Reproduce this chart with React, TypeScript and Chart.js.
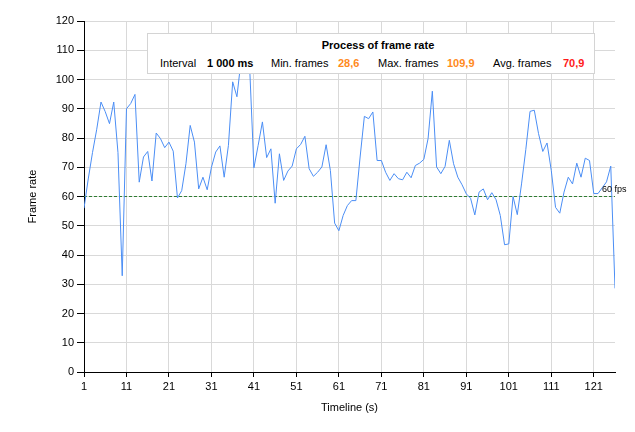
import React, { useEffect, useRef } from "react";
import { Chart, registerables } from "chart.js";

Chart.register(...registerables);

// ---- data ----
const fps: number[] = [
  56, 66, 75, 83, 92.3, 89, 84.9, 92.3, 75, 32.9,
  90, 91.8, 94.9, 64.9, 73.5, 75.4, 65.3, 81.7, 79.8, 76.7,
  78.6, 75.5, 59.5, 62, 71.2, 84.3, 78.6, 62.6, 66.6, 62.3,
  70, 75.2, 77.3, 66.6, 77.5, 99.2, 94.1, 107, 109.9, 104,
  69.8, 77.5, 85.5, 73.3, 76.3, 57.7, 74.6, 65.5, 68.7, 70.4,
  76.3, 77.8, 80.6, 69.5, 66.9, 68.3, 70.1, 77.7, 68.9, 50.9,
  48.3, 53.5, 56.9, 58.6, 58.6, 73.5, 87.4, 86.6, 88.9, 72.3,
  72.3, 68.3, 65.5, 67.8, 66.1, 65.7, 68.3, 66.4, 70.6, 71.4,
  72.7, 79.8, 96, 70.1, 67.8, 70.3, 79.2, 71.2, 66.6, 64,
  60.9, 59.4, 53.7, 61.5, 62.6, 58.9, 61.3, 58.9, 53.5, 43.5,
  43.8, 60, 53.8, 64.3, 76, 89.1, 89.5, 81.5, 75.4, 78.3,
  68.9, 56.3, 54.3, 61.5, 66.6, 64.3, 71.4, 66.6, 73.1, 72.3,
  61, 61, 63, 65, 70.4, 28.6,
];
const firstSecond = 1;
const lastSecond = 126;
const xTickValues: number[] = [1, 11, 21, 31, 41, 51, 61, 71, 81, 91, 101, 111, 121];
const yMin = 0;
const yMax = 120;
const yStep = 10;
const targetFps = 60;
const targetLabel = "60 fps";

const chartTitle = "Process of frame rate";
const statLabels: string[] = ["Interval", "Min. frames", "Max. frames", "Avg. frames"];
const statValues: string[] = ["1 000 ms", "28,6", "109,9", "70,9"];

const FONT = '"Liberation Sans", Arial, sans-serif';

const fpsLabelPlugin = {
  id: "fpsLabel",
  afterDatasetsDraw(chart: any) {
    const { ctx, chartArea, scales } = chart;
    const y = scales.y.getPixelForValue(targetFps);
    ctx.save();
    ctx.font = `9px ${FONT}`;
    ctx.fillStyle = "#000";
    ctx.textBaseline = "middle";
    ctx.textAlign = "left";
    ctx.fillText(targetLabel, chartArea.right - 13, y - 7);
    ctx.restore();
  },
};

export default function App() {
  const canvasRef = useRef<HTMLCanvasElement | null>(null);

  useEffect(() => {
    if (!canvasRef.current) return;
    Chart.defaults.font.family = FONT;
    Chart.defaults.font.size = 11;
    Chart.defaults.color = "#000";
    const points = fps.map((v, i) => ({ x: firstSecond + i, y: v }));
    const chart = new Chart(canvasRef.current, {
      type: "line",
      data: {
        datasets: [
          {
            data: points,
            borderColor: "#4b8ef5",
            borderWidth: 1,
            pointRadius: 0,
            tension: 0,
          },
          {
            data: [
              { x: firstSecond, y: targetFps },
              { x: lastSecond, y: targetFps },
            ],
            borderColor: "#2f7d32",
            borderWidth: 1,
            borderDash: [3, 2],
            pointRadius: 0,
          },
        ],
      },
      options: {
        animation: false,
        responsive: false,
        layout: { padding: { top: 21, right: 20, left: 0, bottom: 0 } },
        plugins: { legend: { display: false }, tooltip: { enabled: false } },
        scales: {
          x: {
            type: "linear",
            min: firstSecond,
            max: lastSecond,
            afterBuildTicks: (s: any) => {
              s.ticks = xTickValues.map((v) => ({ value: v }));
            },
            afterFit: (s: any) => {
              s.height = 60;
            },
            grid: { color: "#d9d9d9", tickColor: "#000", tickLength: 5 },
            border: { color: "#000", width: 1 },
            ticks: { color: "#000", padding: 3, maxRotation: 0, autoSkip: false, font: { size: 11 } },
            title: {
              display: true,
              text: "Timeline (s)",
              color: "#000",
              font: { size: 11 },
              padding: { top: 0, bottom: 17 },
            },
          },
          y: {
            min: yMin,
            max: yMax,
            ticks: { stepSize: yStep, color: "#000", padding: 3, font: { size: 11 } },
            afterFit: (s: any) => {
              s.width = 84;
            },
            grid: { color: "#d9d9d9", tickColor: "#000", tickLength: 7 },
            border: { color: "#000", width: 1 },
            title: {
              display: true,
              text: "Frame rate",
              color: "#000",
              font: { size: 11 },
              padding: { top: 26, bottom: 0 },
            },
          },
        },
      },
      plugins: [fpsLabelPlugin],
    });
    return () => chart.destroy();
  }, []);

  const spanBase: React.CSSProperties = {
    position: "absolute",
    top: 29,
    transform: "translateY(-50%)",
    whiteSpace: "nowrap",
    fontSize: 11,
    lineHeight: "13px",
  };

  return (
    <div
      style={{
        position: "fixed",
        left: 0,
        top: 0,
        width: 635,
        height: 432,
        background: "#fff",
        fontFamily: FONT,
      }}
    >
      <canvas ref={canvasRef} width={635} height={432} style={{ display: "block" }} />
      <div
        style={{
          position: "absolute",
          left: 147,
          top: 33,
          width: 448,
          height: 41,
          boxSizing: "border-box",
          border: "1px solid #d4d4d4",
          background: "#fff",
          color: "#000",
        }}
      >
        <span
          style={{
            position: "absolute",
            left: 230,
            top: 11,
            transform: "translate(-50%, -50%)",
            whiteSpace: "nowrap",
            fontWeight: "bold",
            fontSize: 11,
            lineHeight: "13px",
          }}
        >
          {chartTitle}
        </span>
        <span style={{ ...spanBase, left: 12 }}>{statLabels[0]}</span>
        <span style={{ ...spanBase, left: 59, fontWeight: "bold" }}>{statValues[0]}</span>
        <span style={{ ...spanBase, left: 123 }}>{statLabels[1]}</span>
        <span style={{ ...spanBase, left: 190, fontWeight: "bold", color: "#ff8a1c" }}>{statValues[1]}</span>
        <span style={{ ...spanBase, left: 230 }}>{statLabels[2]}</span>
        <span style={{ ...spanBase, left: 299, fontWeight: "bold", color: "#ff8a1c" }}>{statValues[2]}</span>
        <span style={{ ...spanBase, left: 345 }}>{statLabels[3]}</span>
        <span style={{ ...spanBase, left: 415, fontWeight: "bold", color: "#ff1a1a" }}>{statValues[3]}</span>
      </div>
    </div>
  );
}
